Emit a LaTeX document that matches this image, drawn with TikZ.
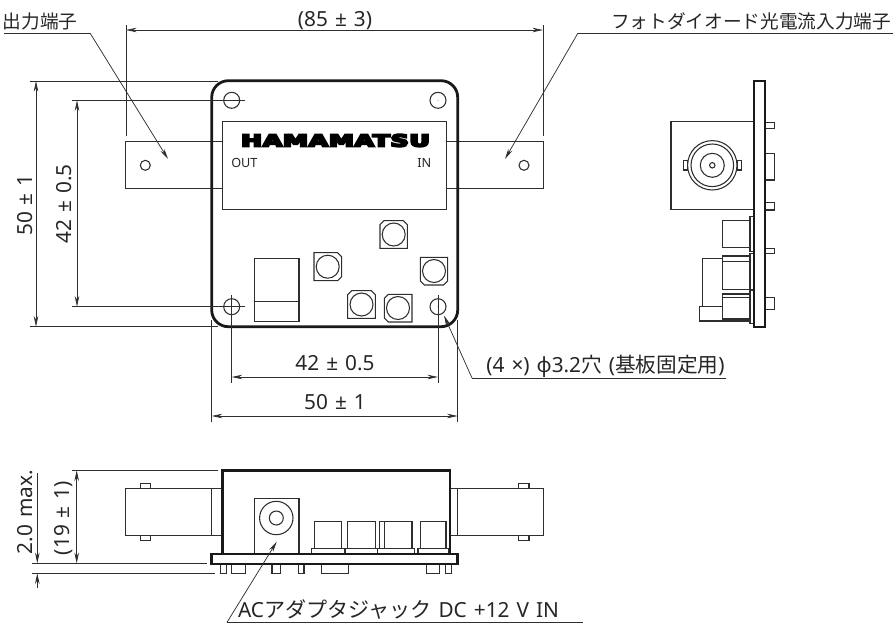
\documentclass[tikz,border=0pt]{standalone}
\usepackage{fontspec}
\usepackage{graphicx}
\setmainfont[WordSpace=1.3]{Noto Sans}
\newfontfamily\cjkbase{Noto Sans CJK JP}
\newcommand{\cjk}{\cjkbase\fontsize{14}{16}\selectfont}
\newcommand{\cjkm}{\cjkbase\fontsize{15.5}{18}\selectfont}
\newcommand{\cjkl}{\cjkbase\fontsize{15.8}{18}\selectfont}
\newfontfamily\logo[FakeBold=11,LetterSpace=3]{DejaVu Sans Bold}
\usetikzlibrary{arrows.meta}
\definecolor{ink}{gray}{0.18}
\tikzset{
  part/.style={draw=ink,line width=0.8pt},
  thick part/.style={draw=black!90,line width=2.1pt},
  heavy part/.style={draw=black!90,line width=1.7pt},
  ext/.style={draw=ink,line width=0.5pt},
  dimline/.style={draw=ink,line width=0.55pt,{Stealth[length=8pt,width=3.4pt]}-{Stealth[length=8pt,width=3.4pt]}},
  leader/.style={draw=ink,line width=0.55pt,-{Stealth[length=8pt,width=3.4pt]}},
  lab/.style={inner sep=0pt,font=\fontsize{15.6}{18}\selectfont,text=black!85},
  small/.style={inner sep=0pt,font=\fontsize{9.5}{11}\selectfont,text=black!85},
}
\begin{document}
\begin{tikzpicture}[x=0.75pt,y=-0.75pt]
\useasboundingbox (0,0) rectangle (893,626);
%% ---------- front view
% connectors (behind)
\draw[part] (222.7,141.7) -- (125.7,141.7) -- (125.7,188.3) -- (222.7,188.3);
\draw[part] (446.7,141.7) -- (543.3,141.7) -- (543.3,188.3) -- (446.7,188.3);
\draw[part] (145.3,165.3) circle (5);
\draw[part] (524,165.3) circle (5);
% board
\draw[thick part,rounded corners=12.5pt] (211.7,80.7) rectangle (457.7,326.7);
% display
\draw[part,fill=white] (222.7,121.7) rectangle (446.7,209.3);
% holes
\foreach \x/\y in {231.7/100.3,438/100.3,231.7/306.7,438/306.7}
  \draw[part] (\x,\y) circle (8);
% logo
\node[inner sep=0pt] (logo) at (335.5,140.5) {\resizebox{141.5pt}{9.2pt}{\logo HAMAMATSU}};
\node[small,anchor=west] (out) at (231,163) {OUT};
\node[small,anchor=east] (in) at (431.5,163) {IN};
% jack box
\draw[part] (254.7,258.7) rectangle (299,321.7);
\draw[part] (254.7,301.7) -- (299,301.7);
% components
\draw[part] (380,248.3) -- (380,224.7) -- (384,220.7) -- (403.3,220.7) -- (407.3,224.7) -- (407.3,248.3) -- cycle;
\draw[part] (393.7,234.5) circle (11.5);
\draw[part] (314,252.7) -- (337.7,252.7) -- (341.7,256.7) -- (341.7,276.7) -- (337.7,280.7) -- (314,280.7) -- cycle;
\draw[part] (327.7,266.7) circle (11.5);
\draw[part] (420.3,257.3) -- (447.7,257.3) -- (447.7,281) -- (443.7,285) -- (424.3,285) -- (420.3,281) -- cycle;
\draw[part] (434,271) circle (11.5);
\draw[part] (347.7,318.3) -- (347.7,294.7) -- (351.7,290.7) -- (371.3,290.7) -- (375.3,294.7) -- (375.3,318.3) -- cycle;
\draw[part] (361.5,304.5) circle (11.5);
\draw[part] (412,294.3) -- (388.3,294.3) -- (384.3,298.3) -- (384.3,318) -- (388.3,322) -- (412,322) -- cycle;
\draw[part] (398,308) circle (11.5);
% centre marks
\foreach \x/\y in {231.7/100.3,438/100.3,231.7/306.7,438/306.7}
  \fill[ink] (\x,\y) circle (0.4);
%% ---------- front view dimensions
\draw[ext] (126,25) -- (126,136);
\draw[ext] (543,25) -- (543,136);
\draw[dimline] (126,30) -- (543,30);
\node[lab] (d85) at (335,20.5) {(85 ± 3)};
\draw[ext] (30,81) -- (218,81);
\draw[ext] (30,326.7) -- (218,326.7);
\draw[dimline] (36,81) -- (36,326.7);
\node[lab,rotate=90] (d50v) at (25,205) {50 ± 1};
\draw[ext] (72,100.3) -- (245,100.3);
\draw[ext] (72,306.7) -- (245,306.7);
\draw[dimline] (77,100.3) -- (77,306.7);
\node[lab,rotate=90] (d42v) at (64,204) {42 ± 0.5};
\draw[ext] (231.7,295) -- (231.7,383);
\draw[ext] (438,295) -- (438,383);
\draw[dimline] (231.7,377) -- (438,377);
\node[lab] (d42h) at (335,363) {42 ± 0.5};
\draw[ext] (211.7,320) -- (211.7,422);
\draw[ext] (457.7,320) -- (457.7,422);
\draw[dimline] (211.7,416) -- (457.7,416);
\node[lab] (d50h) at (335,402) {50 ± 1};
%% ---------- labels with leaders
\coordinate (outL) at (4,33);
\coordinate (outK) at (90,33);
\coordinate (outT) at (168,159);
\draw[ext] (outL) -- (outK);
\draw[leader] (outK) -- (outT);
\node[lab] (outlab) at (40,21.5) {\cjk 出力端子};
\coordinate (inL) at (893,33);
\coordinate (inK) at (578,33);
\coordinate (inT) at (505,159);
\draw[ext] (inL) -- (inK);
\draw[leader] (inK) -- (inT);
\node[lab] (inlab) at (751,21.5) {\cjk フォトダイオード光電流入力端子};
\coordinate (hR) at (726,378);
\coordinate (hK) at (472,378);
\coordinate (hT) at (444,315.5);
\draw[ext] (hR) -- (hK);
\draw[leader] (hK) -- (hT);
\node[lab] (hlab) at (605.5,366) {(4 ×) ϕ3.2{\cjkm 穴} ({\cjkm 基板固定用})};
\coordinate (aR) at (583,622.3);
\coordinate (aK) at (227,622.3);
\coordinate (aT) at (276.7,541.7);
\draw[ext] (aR) -- (aK);
%% ---------- side view
\draw[part] (671,121.7) rectangle (754.3,209.3);
\draw[part] (712.3,165.3) circle (24.7);
\draw[part] (712.3,165.3) circle (21.3);
\draw[part] (712.3,165.3) circle (12);
\draw[part] (712.3,165.3) circle (2.7);
\draw[part,fill=white] (683.7,160.7) rectangle (687.7,170);
\draw[part,fill=white] (737.3,160.7) rectangle (741.7,170);
\foreach \a/\b in {122.3/128.3,153.3/180,202.7/210,248.3/253.3,297.3/309.3}
  \draw[part] (765.3,\a) rectangle (774.7,\b);
\draw[part] (750,216.7) rectangle (754.3,251.7);
\draw[part] (722.7,220.7) rectangle (750,247.7);
\draw[part] (750,253.3) rectangle (754.3,290);
\draw[part] (722.7,256) rectangle (750,289.3);
\draw[part] (722.7,261.7) -- (750,261.7);
\draw[part] (722.7,258.7) -- (702.7,258.7) -- (702.7,306.7);
\draw[part] (750,290.7) rectangle (754.3,323.3);
\draw[part] (722.7,294) rectangle (750,319);
\draw[part] (722.7,297.3) -- (750,297.3);
\draw[part] (722.7,306.7) -- (699.3,306.7) -- (699.3,321) -- (750,321);
\draw[heavy part] (754.3,80.7) rectangle (765.3,326.7);
%% ---------- bottom view
\draw[part] (222.7,488.7) -- (125.7,488.7) -- (125.7,535.7) -- (222.7,535.7);
\draw[part] (211.7,488.7) -- (211.7,535.7);
\draw[part] (140.7,483.7) rectangle (150.7,488.7);
\draw[part] (140.7,535.7) rectangle (150.7,540.3);
\draw[part] (450,488.7) -- (543.3,488.7) -- (543.3,535.7) -- (450,535.7);
\draw[part] (457.7,488.7) -- (457.7,535.7);
\draw[part] (518.7,483.7) rectangle (529,488.7);
\draw[part] (518.7,535.7) rectangle (529,540.3);
\draw[part] (254.7,553.3) -- (254.7,498.7) -- (299,498.7) -- (299,553.3);
\draw[part] (276.3,518) circle (16.7);
\draw[part] (276.3,518) circle (7);
\foreach \a/\b/\c/\d in {314.3/341.7/311.7/344.3,347.3/375.3/345.3/377.3,379.7/412/377.3/414.7,420.7/446/418/448.7}{
  \draw[part] (\a,521.7) rectangle (\b,548.7);
  \draw[part] (\c,548.7) rectangle (\d,553.3);
}
\draw[part] (384.3,521.7) -- (384.3,548.7);
\foreach \a/\b in {220.3/226.7,231.3/245.7,272/280.7,298.3/304,321.3/348.3,426.3/439.7,445.3/451.7}
  \draw[part] (\a,564.5) rectangle (\b,573.7);
\draw[thick part] (222.7,553.3) -- (222.7,470.3) -- (450,470.3) -- (450,553.3);
\draw[thick part] (211.7,554) rectangle (457.7,564);
% bottom dimensions
\draw[ext] (72,470.3) -- (218,470.3);
\draw[ext] (32,563.3) -- (207,563.3);
\draw[ext] (32,573.3) -- (215,573.3);
\draw[dimline] (76.7,470.3) -- (76.7,563.3);
\draw[leader] (37.3,473) -- (37.3,563.3);
\draw[leader] (37.3,588) -- (37.3,573.3);
\node[lab,rotate=90] (d20) at (25,512) {2.0 max.};
\node[lab,rotate=90] (d19) at (64,518) {(19 ± 1)};
\draw[leader] (aK) -- (aT);
\node[lab] (alab) at (398.5,610) {AC{\cjkl アダプタジャック} DC +12 V IN};
\end{tikzpicture}
\end{document}
